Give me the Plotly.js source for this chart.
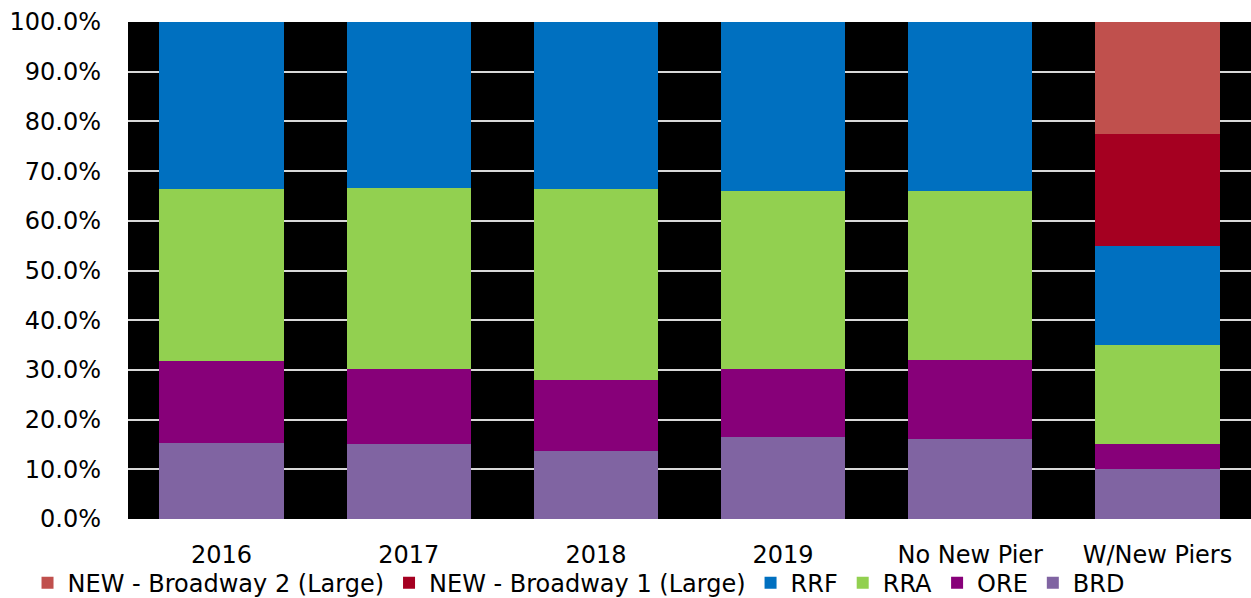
<!DOCTYPE html>
<html><head><meta charset="utf-8">
<script src="https://cdn.plot.ly/plotly-3.0.1.min.js"></script>
<style>html,body{margin:0;padding:0;background:#fff}#chart{width:1251px;height:598px}</style>
</head><body><div id="chart"></div>
<script>
const categories = ["2016", "2017", "2018", "2019", "No New Pier", "W/New Piers"];
const BRD = [0.153, 0.150, 0.136, 0.166, 0.160, 0.100];
const ORE = [0.165, 0.152, 0.144, 0.135, 0.160, 0.050];
const RRA = [0.346, 0.364, 0.384, 0.359, 0.340, 0.200];
const RRF = [0.336, 0.334, 0.336, 0.340, 0.340, 0.200];
const NEW_B1 = [0, 0, 0, 0, 0, 0.225];
const NEW_B2 = [0, 0, 0, 0, 0, 0.225];

const seriesNames = ["BRD", "ORE", "RRA", "RRF", "NEW - Broadway 1 (Large)", "NEW - Broadway 2 (Large)"];
const seriesVals = [BRD, ORE, RRA, RRF, NEW_B1, NEW_B2];
const colors = ["#8064A2", "#870079", "#92D050", "#0070C0", "#A50021", "#C0504D"];

const traces = seriesNames.map((n, i) => ({
  type: "bar", name: n, x: categories, y: seriesVals[i],
  marker: {color: colors[i], line: {width: 0}},
  hoverinfo: "name+y"
}));

const font = {family: "DejaVu Sans, sans-serif", size: 24, color: "#000"};
const layout = {
  width: 1251, height: 598,
  margin: {l: 128, r: 0, t: 22, b: 79, autoexpand: false},
  barmode: "stack", bargap: 0.335,
  paper_bgcolor: "#fff", plot_bgcolor: "#000",
  font: font,
  showlegend: true,
  legend: {orientation: "h", x: 0.022, xanchor: "left", xref: "container", y: 0.025, yanchor: "middle", yref: "container",
           traceorder: "reversed", font: {family: font.family, size: 24, color: "#000"},
           itemwidth: 30, tracegroupgap: 0, bgcolor: "rgba(0,0,0,0)"},
  xaxis: {type: "category", showgrid: false, zeroline: false, showline: false, ticks: "",
          tickfont: font, ticklen: 0, tickangle: 0, automargin: false, ticklabelstandoff: 19},
  yaxis: {range: [0, 1], tickvals: [0,0.1,0.2,0.3,0.4,0.5,0.6,0.7,0.8,0.9,1.0], tickformat: ".1%",
          showgrid: true, gridcolor: "#D9D9D9", gridwidth: 2, zeroline: false, showline: false,
          ticks: "", tickfont: font, ticklabelstandoff: 26, automargin: false}
};
Plotly.newPlot("chart", traces, layout, {displayModeBar: false, staticPlot: true});
</script></body></html>
